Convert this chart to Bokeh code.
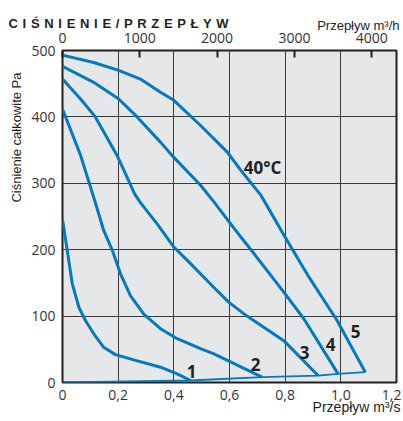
from bokeh.plotting import figure
from bokeh.models import Range1d, LinearAxis, FixedTicker, CustomJSTickFormatter, Label, Title
from bokeh.embed import file_html
from bokeh.resources import INLINE

# ---- data (flow m3/s, total pressure Pa) ----
q5 = [0, 0.112, 0.202, 0.28, 0.352, 0.4, 0.496, 0.592, 0.64, 0.711, 0.735, 0.79, 0.885, 0.987, 1.088]
p5 = [493, 482, 470, 457, 437, 425, 387, 347, 320, 283, 266, 226, 159, 93, 15.5]

q4 = [0, 0.112, 0.202, 0.268, 0.352, 0.4, 0.496, 0.544, 0.622, 0.675, 0.795, 0.867, 0.99]
p4 = [476, 452, 427, 400, 362, 339, 297, 272, 229, 201, 136, 96, 13]

q3 = [0, 0.065, 0.118, 0.196, 0.229, 0.259, 0.28, 0.34, 0.4, 0.46, 0.544, 0.597, 0.663, 0.795, 0.918]
p3 = [457, 427, 400, 342, 312, 284, 271, 239, 204, 179, 143, 121, 100, 63, 10.5]

q2 = [0, 0.065, 0.115, 0.148, 0.179, 0.208, 0.244, 0.292, 0.352, 0.412, 0.496, 0.544, 0.717]
p2 = [412, 342, 275, 229, 199, 164, 131, 103, 81, 66, 51, 43, 8]

q1 = [0, 0.017, 0.035, 0.059, 0.083, 0.113, 0.148, 0.19, 0.256, 0.352, 0.412, 0.46]
p1 = [246, 199, 149, 113, 93, 73, 53, 42, 34, 23, 13, 3]

q_end = [0, 0.46, 0.717, 0.918, 0.99, 1.088]
p_end = [0, 3, 8, 10.5, 13, 15.5]

x_ticks = [0, 0.2, 0.4, 0.6, 0.8, 1.0, 1.2]
y_ticks = [0, 100, 200, 300, 400, 500]
top_ticks = [0, 1000, 2000, 3000, 4000]

curve_labels = ["1", "2", "3", "4", "5", "40°C"]
heading = "CIŚNIENIE/PRZEPŁYW"

BLUE = "#0479bf"
DARK = "#231f20"
TICKFONT = "Open Sans"

# reference-pixel -> data helpers (for text placement only)
L, R, T, B = 62, 396, 50, 382
def dx(px):
    return (px - L) / (R - L) * 1.2
def dy(py):
    return (B - py) / (B - T) * 500

def make_title(text, size, style, align, standoff, offset, fallback=0):
    kw = dict(text=text, align=align, offset=offset, text_font="Liberation Sans",
              text_font_style=style, text_font_size=size, text_color=DARK)
    try:
        return Title(standoff=standoff, **kw)
    except Exception:
        return Title(standoff=fallback, **kw)

p = figure(width=401, height=421, output_backend="svg", toolbar_location=None,
           x_range=Range1d(0, 1.2), y_range=Range1d(0, 500),
           min_border_left=62, min_border_right=5, min_border_top=50, min_border_bottom=39)
p.background_fill_color = "#e6e7e8"
p.border_fill_color = "white"
p.outline_line_color = DARK
p.outline_line_width = 2

p.extra_x_ranges = {"m3h": Range1d(0, 1.2 * 3600)}
top = LinearAxis(x_range_name="m3h", ticker=FixedTicker(ticks=top_ticks))
p.add_layout(top, "above")

bottom = p.below[0]
left = p.left[0]

for ax in [bottom, left]:
    ax.axis_line_color = None
    ax.major_tick_line_color = None
    ax.minor_tick_line_color = None
    ax.major_tick_in = 0
    ax.major_tick_out = 0
    ax.major_label_text_font = TICKFONT
    ax.major_label_text_font_size = "14px"
    ax.major_label_text_color = "#333333"

bottom.ticker = FixedTicker(ticks=x_ticks)
bottom.formatter = CustomJSTickFormatter(
    code="return tick === 0 ? '0' : tick.toFixed(1).replace('.', ',');")
bottom.major_label_standoff = 7
left.ticker = FixedTicker(ticks=y_ticks)
left.major_label_standoff = 7

top.axis_line_color = None
top.minor_tick_line_color = None
top.major_tick_in = 7
top.major_tick_out = 0
top.major_tick_line_width = 2
top.major_tick_line_color = DARK
top.major_label_standoff = 8
top.major_label_text_font = TICKFONT
top.major_label_text_font_size = "14px"
top.major_label_text_color = "#333333"

p.xgrid.ticker = FixedTicker(ticks=x_ticks)
p.ygrid.ticker = FixedTicker(ticks=y_ticks)
p.grid.grid_line_color = "#3a3a3a"
p.grid.grid_line_width = 1

# curves
p.line(q_end, p_end, line_color=BLUE, line_width=1.8)
for qs, ps in [(q1, p1), (q2, p2), (q3, p3), (q4, p4), (q5, p5)]:
    p.line(qs, ps, line_color=BLUE, line_width=3, line_join="round")

# curve labels
label_pos = [(191, 371), (255, 364), (304, 352), (330, 344), (355, 331), (262, 167)]
for txt, (lx, ly) in zip(curve_labels, label_pos):
    p.add_layout(Label(x=dx(lx), y=dy(ly), text=txt, text_align="center",
                       text_baseline="middle", text_font=TICKFONT,
                       text_font_style="bold", text_font_size="17px",
                       text_color=DARK))

# letter-spaced heading
spaced = " \u200a".join(list(heading))

# axis titles and heading in the side panels
p.add_layout(make_title("Przepływ m³/h", "13px", "normal", "right", -6, -3), "above")
p.add_layout(make_title(spaced, "13px", "bold", "left", -24, -54), "above")
p.add_layout(make_title("Przepływ m³/s", "14px", "normal", "right", -12, -4), "below")
p.add_layout(make_title("Ciśnienie całkowite Pa", "13px", "normal", "right", 10, 22), "left")

open("out.html", "w").write(file_html(p, INLINE))
